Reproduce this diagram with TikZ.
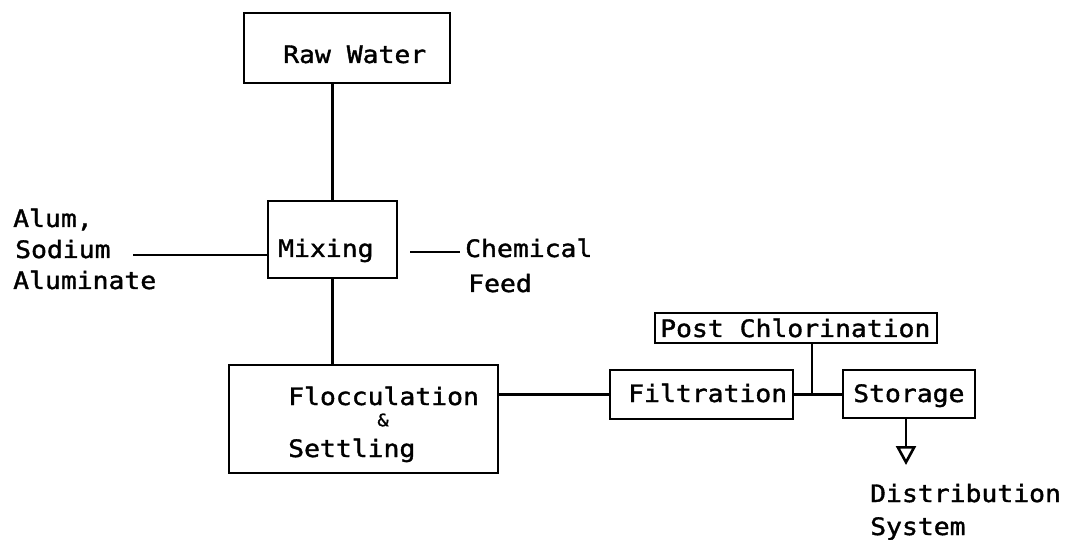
\documentclass[tikz,border=0pt]{standalone}
\usepackage{fontspec}
\usetikzlibrary{arrows.meta,calc}
\newfontfamily\typew[FakeStretch=1.1,FakeBold=1.5]{DejaVu Sans Mono}
\begin{document}
\begin{tikzpicture}[x=1pt,y=-1pt,
  box/.style={draw, line width=2.6pt, rectangle, inner sep=0pt, minimum width=#1},
  txt/.style={anchor=base west, inner sep=0pt, font=\typew\fontsize{24}{28}\selectfont},
  smalltxt/.style={inner sep=0pt, font=\typew\fontsize{17}{19}\selectfont},
  conn/.style={line width=2.4pt}]
\useasboundingbox[fill=white] (0,0) rectangle (1077,540);

% boxes
\node[box=206pt, minimum height=70pt] (raw) at (347,48) {};
\node[box=129pt, minimum height=77pt] (mix) at (332.5,239.5) {};
\node[box=269pt, minimum height=108pt] (floc) at (363.5,419) {};
\node[box=183pt, minimum height=49pt] (filt) at (701.5,394.5) {};
\node[box=282pt, minimum height=30pt] (post) at (796,328) {};
\node[box=132pt, minimum height=48pt] (stor) at (909,394) {};

% box texts
\node[txt] (rawT) at (283,63) {Raw Water};
\node[txt] (mixT) at (278,257) {Mixing};
\node[txt] (flocA) at (288,405) {Flocculation};
\node[smalltxt] (flocB) at (383,420) {\&};
\node[txt] (flocC) at (288,457) {Settling};
\node[txt] (filtT) at (628,402) {Filtration};
\node[txt] (postT) at (660,337) {Post Chlorination};
\node[txt] (storT) at (853,402) {Storage};

% side labels
\node[txt] (alumA) at (13,227) {Alum,};
\node[txt] (alumB) at (15,258) {Sodium};
\node[txt] (alumC) at (13,289) {Aluminate};
\node[txt] (chemA) at (465,257) {Chemical};
\node[txt] (chemB) at (468,292) {Feed};
\node[txt] (distA) at (870,502) {Distribution};
\node[txt] (distB) at (870,535) {System};

% connectors
\draw[conn] (mix.north) -- (mix.north |- raw.south);
\draw[conn] (mix.south) -- (mix.south |- floc.north);
\coordinate (alumEnd) at (133,255);
\draw[conn] (alumEnd) -- (alumEnd -| mix.west);
\coordinate (chemStart) at (410,252);
\draw[conn] (chemStart) -- ([xshift=-5pt]chemStart -| chemA.west);
\draw[conn] (filt.west -| floc.east) -- (filt.west);
\draw[conn] (filt.east) -- (filt.east -| stor.west);
\coordinate (jn) at (812,394);
\draw[conn] (jn |- post.south) -- (jn);
\coordinate (distTip) at (906,465);
\draw[conn, -{Triangle[open, length=19pt, width=20pt, line width=2.6pt]}] (distTip |- stor.south) -- (distTip);
\end{tikzpicture}
\end{document}
